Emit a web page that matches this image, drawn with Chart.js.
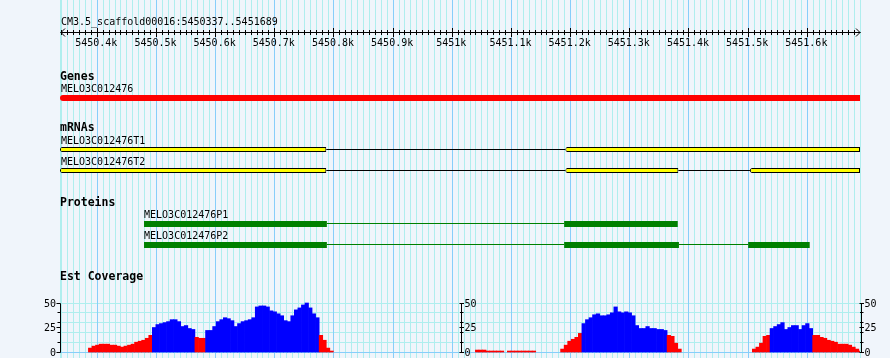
<!DOCTYPE html>
<html>
<head>
<meta charset="utf-8">
<script src="https://cdn.jsdelivr.net/npm/chart.js@4.4.1/dist/chart.umd.min.js"></script>
<style>
html,body{margin:0;padding:0;background:#f0f5fb;}
canvas{display:block;}
</style>
</head>
<body>
<canvas id="c" width="890" height="358"></canvas>
<script>
// ------------------------- DATA -------------------------
const refName = 'CM3.5_scaffold00016';
const viewStart = 5450337;
const viewEnd = 5451689;

const rulerTicks = [5450400,5450500,5450600,5450700,5450800,5450900,5451000,5451100,5451200,5451300,5451400,5451500,5451600];
const rulerLabels = ['5450.4k','5450.5k','5450.6k','5450.7k','5450.8k','5450.9k','5451k','5451.1k','5451.2k','5451.3k','5451.4k','5451.5k','5451.6k'];

const trackTitles = ['Genes', 'mRNAs', 'Proteins', 'Est Coverage'];

const geneNames = ['MELO3C012476'];
const geneSpans = [[5450337, 5451689]];

const mrnaNames = ['MELO3C012476T1', 'MELO3C012476T2'];
const mrnaT1Exons = [[5450337, 5450787], [5451191, 5451689]];
const mrnaT2Exons = [[5450337, 5450787], [5451191, 5451382], [5451503, 5451689]];

const proteinNames = ['MELO3C012476P1', 'MELO3C012476P2'];
const proteinP1Cds = [[5450479, 5450788], [5451189, 5451381]];
const proteinP2Cds = [[5450479, 5450788], [5451189, 5451383], [5451500, 5451604]];

// EST coverage, 6 bp bins counted from viewStart; runs of consecutive bins
const covBinSize = 6;
const covRunStart = [8, 26, 38, 41, 73, 117, 126, 141, 147, 171, 195, 200, 212];
const covRunClass = ['R','B','R','B','R','R','R','R','B','R','R','B','R'];
const covRunValues = [
  [4,6,7,8,8,8,7,7,6,5,6,7,8,10,11,12,14,17],
  [25,28,29,30,31,33,33,31,26,27,24,23],
  [15,14,14],
  [22,22,26,31,33,35,34,32,26,29,31,32,33,35,46,47,47,46,42,41,39,37,32,31,37,43,45,48,50,45,39,35],
  [17,12,4,1],
  [2,2,2,1,1,1,1,1],
  [1,1,1,1,1,1,1,1],
  [3,7,11,13,15,19],
  [29,33,35,38,39,37,37,38,40,46,41,40,41,40,37,27,24,24,26,24,24,23,23,22],
  [17,16,9,3],
  [3,5,9,16,17],
  [24,26,28,30,23,25,27,27,23,27,29,24],
  [17,17,15,14,12,11,10,8,8,8,7,5,3,1]
];
const covAxisMax = 50;
const covTickValues = [0, 25, 50];
const covTickLabels = ['0', '25', '50'];
const covMinorTicks = [10, 20, 30, 40];
const covGridValues = [0, 10, 20, 30, 40, 50];

// ------------------------- STYLE / LAYOUT -------------------------
const COLORS = {
  gridMinor: '#afeeee', gridMajor: '#87cefa', text: '#000000',
  gene: '#ff0000', exon: '#ffff00', exonBorder: '#000000', intron: '#000000',
  cds: '#008000', covLow: '#ff0000', covHigh: '#0000ff'
};
const FONT = '10px "DejaVu Sans Mono", monospace';
const FONT_BOLD = 'bold 11.5px "DejaVu Sans Mono", monospace';
const L = {
  padLeft: 60, padRight: 30, height: 358,
  titleY: 25, rulerY: 32.5, tickLabelY: 46,
  trackTitleY: [80, 131, 206, 280],
  geneLabelY: 92, geneBarY: 98,
  mrnaLabelY: [144, 165], mrnaBarY: [149.5, 170.5],
  protLabelY: [218, 239], protBarY: [224, 245], protLineY: [223.5, 244.5],
  covZeroPx: 352, covTopPx: 303
};
const covPxPerUnit = (L.covZeroPx - L.covTopPx) / covAxisMax;
const covMin = -(L.height - L.covZeroPx) / covPxPerUnit;
const covMax = covMin + L.height / covPxPerUnit;

// ------------------------- BUILD DATASETS -------------------------
const toBars = (spans, y) => spans.map(s => ({x: [s[0], s[1]], y}));
const gapsOf = spans => { const g = []; for (let i = 1; i < spans.length; i++) g.push([spans[i-1][1], spans[i][0]]); return g; };

const covPoints = [], covColors = [];
covRunStart.forEach((b, r) => {
  covRunValues[r].forEach((v, k) => {
    covPoints.push({x: viewStart + (b + k + 0.5) * covBinSize, y: v});
    covColors.push(covRunClass[r] === 'B' ? COLORS.covHigh : COLORS.covLow);
  });
});

const featBase = {
  type: 'bar', indexAxis: 'y', xAxisID: 'x', yAxisID: 'yT',
  grouped: false, borderSkipped: false, inflateAmount: 0
};
const arrowLeft = (r) => ({topLeft: r, bottomLeft: r, topRight: 0, bottomRight: 0});

const datasets = [
  Object.assign({}, featBase, {data: toBars(geneSpans, L.geneBarY), backgroundColor: COLORS.gene, barThickness: 6, borderRadius: arrowLeft(3), borderWidth: 0}),
  Object.assign({}, featBase, {data: toBars(mrnaT1Exons, L.mrnaBarY[0]).concat(toBars(mrnaT2Exons, L.mrnaBarY[1])),
    backgroundColor: COLORS.exon, borderColor: COLORS.exonBorder, borderWidth: 1, barThickness: 5, borderRadius: arrowLeft(2)}),
  Object.assign({}, featBase, {data: toBars(gapsOf(mrnaT1Exons), L.mrnaBarY[0]).concat(toBars(gapsOf(mrnaT2Exons), L.mrnaBarY[1])),
    backgroundColor: COLORS.intron, borderWidth: 0, barThickness: 1}),
  Object.assign({}, featBase, {data: toBars(proteinP1Cds, L.protBarY[0]).concat(toBars(proteinP2Cds, L.protBarY[1])),
    backgroundColor: COLORS.cds, borderWidth: 0, barThickness: 6}),
  Object.assign({}, featBase, {data: toBars(gapsOf(proteinP1Cds), L.protLineY[0]).concat(toBars(gapsOf(proteinP2Cds), L.protLineY[1])),
    backgroundColor: COLORS.cds, borderWidth: 0, barThickness: 1}),
  {type: 'bar', xAxisID: 'xc', yAxisID: 'yCov', data: covPoints, backgroundColor: covColors,
    borderWidth: 0, barPercentage: 1, categoryPercentage: 1, inflateAmount: 0.33, grouped: false}
];

// ------------------------- DECORATION PLUGIN -------------------------
const browserDecor = {
  id: 'browserDecor',
  beforeDatasetsDraw(chart) {
    const {ctx, chartArea: ca, scales} = chart;
    const xs = scales.x, yc = scales.yCov;
    const H = chart.height;
    const first = Math.ceil(viewStart / 10) * 10, last = Math.ceil(viewEnd / 10) * 10;
    ctx.save();
    ctx.lineWidth = 1;
    ctx.strokeStyle = COLORS.gridMinor;
    ctx.beginPath();
    ctx.moveTo(ca.left + 0.5, 0); ctx.lineTo(ca.left + 0.5, H);
    for (let v = first; v <= last; v += 10) {
      if (v % 100 === 0) continue;
      const p = Math.floor(xs.getPixelForValue(v)) + 0.5;
      ctx.moveTo(p, 0); ctx.lineTo(p, H);
    }
    covGridValues.forEach(v => {
      if (v === 0) return;
      const p = Math.floor(yc.getPixelForValue(v)) + 0.5;
      ctx.moveTo(ca.left, p); ctx.lineTo(ca.right, p);
    });
    ctx.stroke();
    ctx.strokeStyle = COLORS.gridMajor;
    ctx.beginPath();
    rulerTicks.forEach(v => {
      const p = Math.floor(xs.getPixelForValue(v)) + 0.5;
      ctx.moveTo(p, 0); ctx.lineTo(p, H);
    });
    const z = Math.floor(yc.getPixelForValue(0)) + 0.5;
    ctx.moveTo(ca.left, z); ctx.lineTo(ca.right, z);
    ctx.stroke();
    ctx.restore();
  },
  afterDatasetsDraw(chart) {
    const {ctx, chartArea: ca, scales} = chart;
    const xs = scales.x, yc = scales.yCov;
    ctx.save();
    ctx.fillStyle = COLORS.text;
    ctx.strokeStyle = COLORS.text;
    ctx.lineWidth = 1;
    ctx.textBaseline = 'alphabetic';

    // ruler
    ctx.font = FONT; ctx.textAlign = 'left';
    ctx.fillText(refName + ':' + viewStart + '..' + viewEnd, ca.left + 1, L.titleY);
    const r0 = Math.floor(xs.getPixelForValue(viewStart)) + 0.5;
    const r1 = Math.floor(xs.getPixelForValue(viewEnd)) + 0.5;
    const ry = L.rulerY;
    ctx.beginPath();
    ctx.moveTo(r0, ry); ctx.lineTo(r1, ry);
    ctx.moveTo(r0 + 4.5, ry - 4); ctx.lineTo(r0 + 0.5, ry); ctx.lineTo(r0 + 4.5, ry + 4);
    ctx.moveTo(r1 - 4.5, ry - 4); ctx.lineTo(r1 - 0.5, ry); ctx.lineTo(r1 - 4.5, ry + 4);
    for (let v = Math.ceil(viewStart / 10) * 10; v < viewEnd; v += 10) {
      const p = Math.floor(xs.getPixelForValue(v)) + 0.5;
      const len = (v % 100 === 0) ? 4.5 : 2.5;
      ctx.moveTo(p, ry - len); ctx.lineTo(p, ry + len);
    }
    ctx.stroke();
    ctx.textAlign = 'center';
    rulerTicks.forEach((v, i) => {
      ctx.fillText(rulerLabels[i], xs.getPixelForValue(v) - 1, L.tickLabelY);
    });

    // track titles
    ctx.textAlign = 'left';
    ctx.font = FONT_BOLD;
    trackTitles.forEach((t, i) => ctx.fillText(t, ca.left, L.trackTitleY[i]));

    // feature labels
    ctx.font = FONT;
    ctx.fillText(geneNames[0], xs.getPixelForValue(geneSpans[0][0]) + 1, L.geneLabelY);
    ctx.fillText(mrnaNames[0], xs.getPixelForValue(mrnaT1Exons[0][0]) + 1, L.mrnaLabelY[0]);
    ctx.fillText(mrnaNames[1], xs.getPixelForValue(mrnaT2Exons[0][0]) + 1, L.mrnaLabelY[1]);
    ctx.fillText(proteinNames[0], xs.getPixelForValue(proteinP1Cds[0][0]), L.protLabelY[0]);
    ctx.fillText(proteinNames[1], xs.getPixelForValue(proteinP2Cds[0][0]), L.protLabelY[1]);

    // coverage scales (left, middle, right)
    const axes = [
      {x: ca.left + 0.5, side: 'left'},
      {x: Math.floor((ca.left + ca.right) / 2) + 1.5, side: 'right'},
      {x: ca.right + 1.5, side: 'right'}
    ];
    const yTop = Math.floor(yc.getPixelForValue(covAxisMax)) + 0.5;
    const yBot = Math.floor(yc.getPixelForValue(0)) + 0.5;
    axes.forEach(a => {
      ctx.beginPath();
      ctx.moveTo(a.x, yTop); ctx.lineTo(a.x, yBot);
      const tick = (v, len) => {
        const p = Math.floor(yc.getPixelForValue(v)) + 0.5;
        if (a.side === 'left') { ctx.moveTo(a.x - len, p); ctx.lineTo(a.x, p); }
        else { ctx.moveTo(a.x - len / 2, p); ctx.lineTo(a.x + len / 2 + 0.5, p); }
      };
      covTickValues.forEach(v => tick(v, 4));
      covMinorTicks.forEach(v => tick(v, 3));
      ctx.stroke();
      ctx.textAlign = a.side === 'left' ? 'right' : 'left';
      covTickValues.forEach((v, i) => {
        const p = yc.getPixelForValue(v) + 3.7;
        ctx.fillText(covTickLabels[i], a.side === 'left' ? a.x - 4.5 : a.x + 3, p);
      });
    });
    ctx.restore();
  }
};

// ------------------------- CHART -------------------------
new Chart(document.getElementById('c'), {
  data: {datasets},
  options: {
    responsive: false,
    animation: false,
    devicePixelRatio: 1,
    events: [],
    layout: {padding: {left: L.padLeft, right: L.padRight, top: 0, bottom: 0}},
    plugins: {legend: {display: false}, tooltip: {enabled: false}, title: {display: false}},
    scales: {
      x: {type: 'linear', axis: 'x', min: viewStart, max: viewEnd, offset: false, display: false},
      xc: {type: 'linear', axis: 'x', min: viewStart, max: viewEnd, offset: false, display: false},
      yT: {type: 'linear', axis: 'y', min: 0, max: L.height, reverse: true, offset: false, display: false},
      yCov: {type: 'linear', axis: 'y', min: covMin, max: covMax, offset: false, display: false}
    }
  },
  plugins: [browserDecor]
});
</script>
</body>
</html>
